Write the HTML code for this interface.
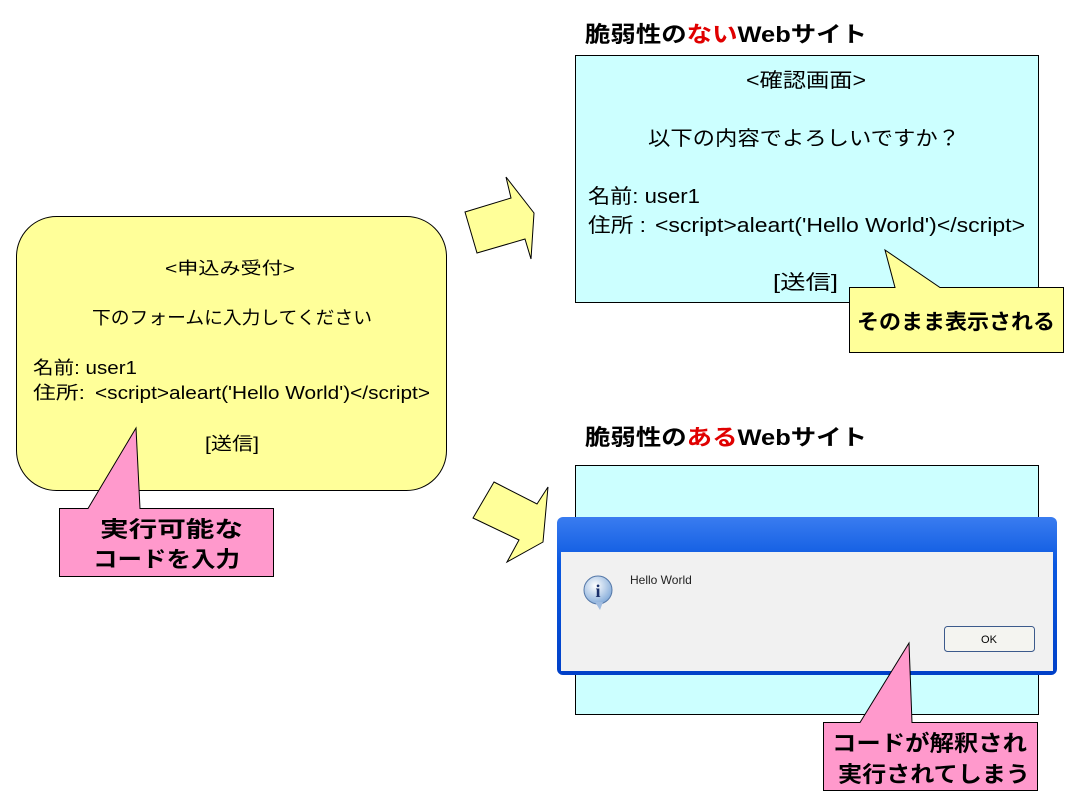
<!DOCTYPE html>
<html><head><meta charset="utf-8"><style>
body{margin:0;background:#fff;width:1075px;height:797px;overflow:hidden}
svg{display:block}
text{font-family:"Liberation Sans","Noto Sans CJK JP",sans-serif;fill:#000}
.b{font-weight:bold}
</style></head><body>
<svg width="1075" height="797" viewBox="0 0 1075 797">
<defs>
<linearGradient id="tb" x1="0" y1="0" x2="0" y2="1">
<stop offset="0" stop-color="#3a7cf0"/><stop offset="0.3" stop-color="#0a58e0"/><stop offset="1" stop-color="#0040c8"/>
</linearGradient>
<radialGradient id="ic" cx="0.4" cy="0.35" r="0.7"><stop offset="0" stop-color="#fff"/><stop offset="1" stop-color="#7fa8d8"/></radialGradient>
</defs>
<rect x="16.5" y="216.5" width="430" height="274" rx="40" fill="#ffff99" stroke="#000" stroke-width="1"/>
<text x="165" y="274" font-size="17" textLength="130" lengthAdjust="spacingAndGlyphs">&lt;申込み受付&gt;</text>
<text x="92" y="324" font-size="18" textLength="280" lengthAdjust="spacingAndGlyphs">下のフォームに入力してください</text>
<text x="33" y="374" font-size="18" textLength="104" lengthAdjust="spacingAndGlyphs">名前: user1</text>
<text x="33" y="399" font-size="18" textLength="52" lengthAdjust="spacingAndGlyphs">住所:</text>
<text x="95" y="399" font-size="18" textLength="335" lengthAdjust="spacingAndGlyphs">&lt;script&gt;aleart('Hello World')&lt;/script&gt;</text>
<text x="205" y="450" font-size="18" textLength="54" lengthAdjust="spacingAndGlyphs">[送信]</text>
<polygon points="59.5,508.5 88,508.5 136,428 140,508.5 273.5,508.5 273.5,576.5 59.5,576.5" fill="#ff99cc" stroke="#000"/>
<text class="b" x="100" y="537" font-size="22" textLength="143" lengthAdjust="spacingAndGlyphs">実行可能な</text>
<text class="b" x="93" y="567" font-size="22" textLength="147" lengthAdjust="spacingAndGlyphs">コードを入力</text>
<polygon points="465,212 511,198 506,177 534,213 531,259 525,239 477,253" fill="#ffff99" stroke="#000"/>
<polygon points="494,482 537,504 548,487 543,542 507,562 519,540 473,518" fill="#ffff99" stroke="#000"/>
<text class="b" x="585" y="42" font-size="22" textLength="282" lengthAdjust="spacingAndGlyphs">脆弱性の<tspan style="fill:#e00000">ない</tspan>Webサイト</text>
<rect x="575.5" y="55.5" width="463" height="247" fill="#ccffff" stroke="#000"/>
<text x="746" y="87" font-size="20" textLength="120" lengthAdjust="spacingAndGlyphs">&lt;確認画面&gt;</text>
<text x="648" y="145" font-size="20" textLength="312" lengthAdjust="spacingAndGlyphs">以下の内容でよろしいですか？</text>
<text x="588" y="203" font-size="20" textLength="112" lengthAdjust="spacingAndGlyphs">名前: user1</text>
<text x="588" y="232" font-size="20" textLength="58" lengthAdjust="spacingAndGlyphs">住所 :</text>
<text x="655" y="232" font-size="20" textLength="370" lengthAdjust="spacingAndGlyphs">&lt;script&gt;aleart('Hello World')&lt;/script&gt;</text>
<text x="773" y="289" font-size="20" textLength="65" lengthAdjust="spacingAndGlyphs">[送信]</text>
<polygon points="849.5,287.5 895,287.5 885,250 940,287.5 1063.5,287.5 1063.5,352.5 849.5,352.5" fill="#ffff99" stroke="#000"/>
<text class="b" x="857" y="329" font-size="21" textLength="198" lengthAdjust="spacingAndGlyphs">そのまま表示される</text>
<text class="b" x="585" y="445" font-size="22" textLength="282" lengthAdjust="spacingAndGlyphs">脆弱性の<tspan style="fill:#e00000">ある</tspan>Webサイト</text>
<rect x="575.5" y="465.5" width="463" height="249" fill="#ccffff" stroke="#000"/>
<rect x="557" y="517" width="500" height="158" rx="6" fill="url(#tb)"/>
<rect x="561" y="552" width="492" height="119" fill="#f1f1f1"/>
<circle cx="598" cy="590" r="14" fill="url(#ic)" stroke="#5578a8"/>
<polygon points="595,602 600,610 603,602" fill="#a0bce0"/>
<text x="598" y="597" font-size="18" font-weight="bold" text-anchor="middle" style="fill:#1a2f6a;font-family:'Liberation Serif',serif">i</text>
<text x="630" y="584" font-size="12" style="fill:#222">Hello World</text>
<rect x="944.5" y="626.5" width="90" height="25" rx="3" fill="#f4f4f0" stroke="#3c5a8c"/>
<text x="989" y="643" font-size="11" text-anchor="middle">OK</text>
<polygon points="823.5,722.5 860,722.5 909,643 912,722.5 1037.5,722.5 1037.5,790.5 823.5,790.5" fill="#ff99cc" stroke="#000"/>
<text class="b" x="832" y="751" font-size="22" textLength="195" lengthAdjust="spacingAndGlyphs">コードが解釈され</text>
<text class="b" x="838" y="782" font-size="22" textLength="192" lengthAdjust="spacingAndGlyphs">実行されてしまう</text>
</svg>
</body></html>
